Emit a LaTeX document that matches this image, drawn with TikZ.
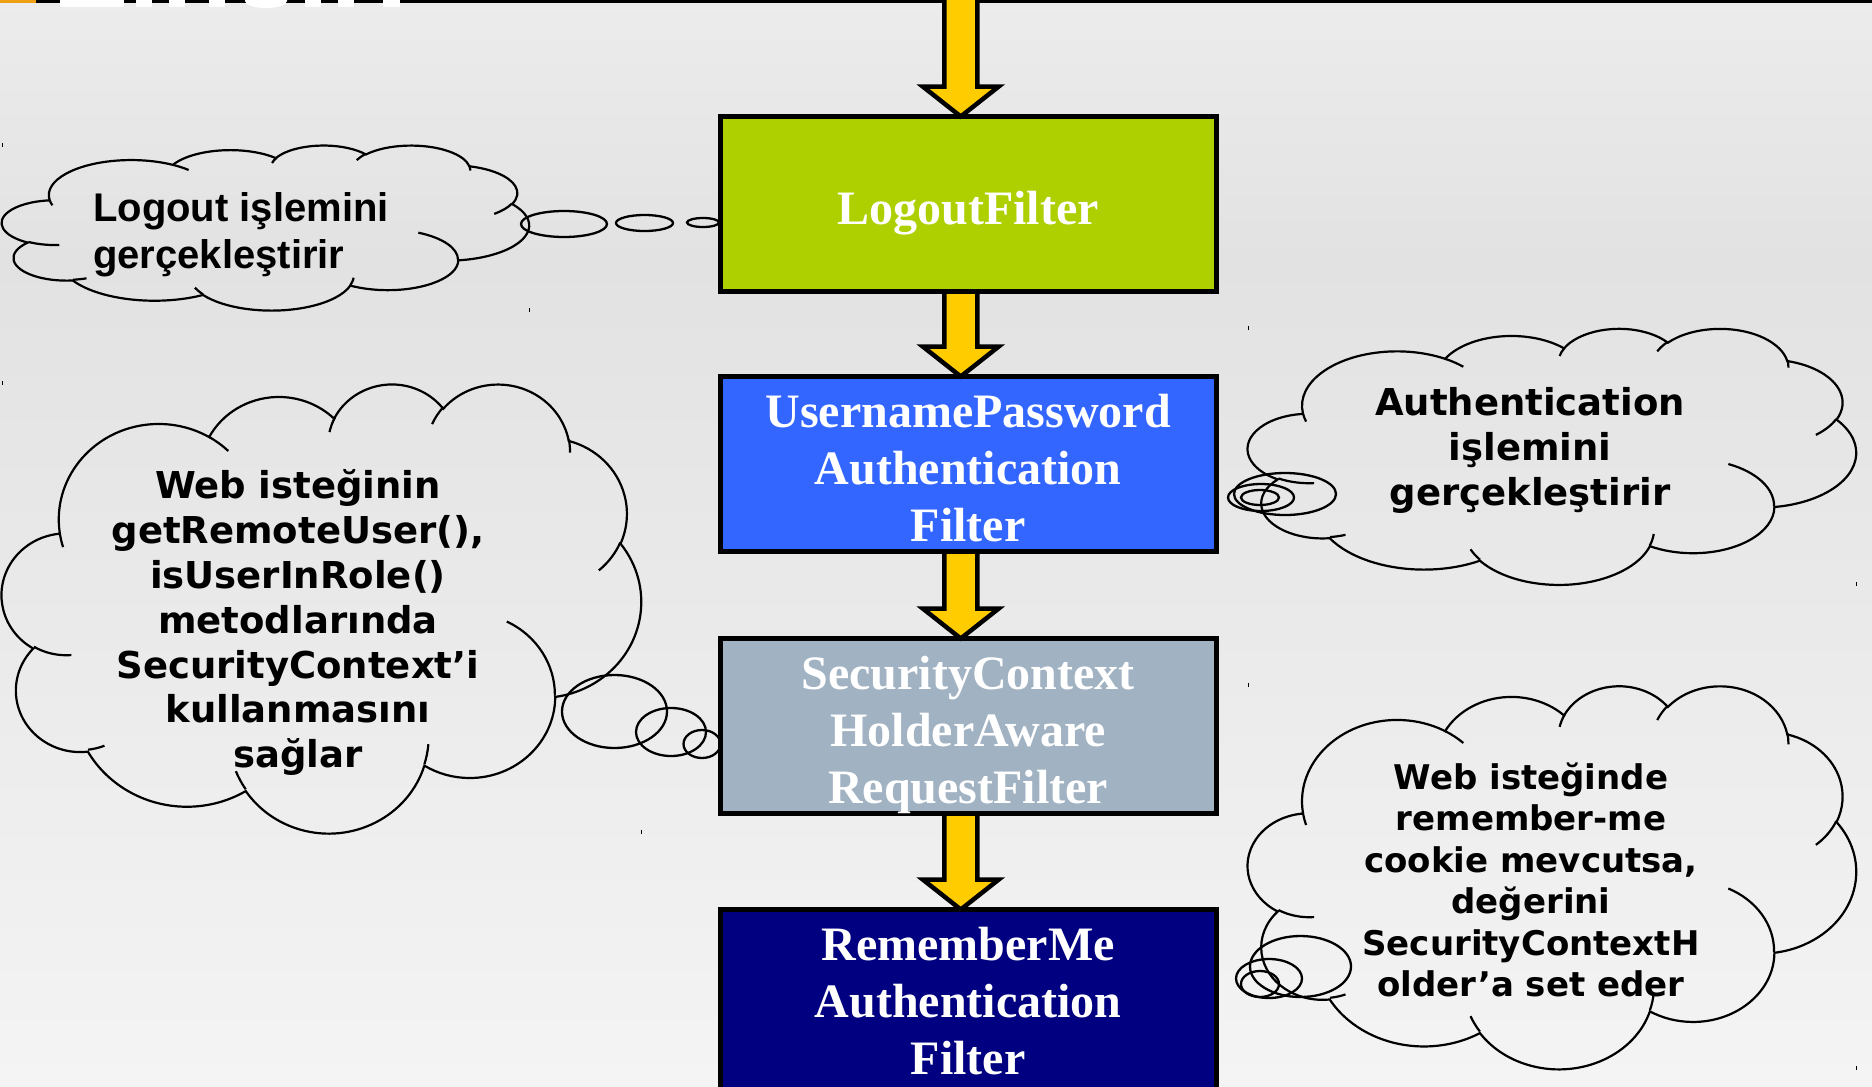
\documentclass[tikz,border=0pt]{standalone}
\usepackage{fontspec}
\setmainfont{Liberation Serif}
\newfontfamily\dejavu{DejaVu Sans}
\newfontfamily\libsans{Liberation Sans}
\usetikzlibrary{calc}
\definecolor{bgtop}{RGB}{236,236,236}
\definecolor{bgmid}{RGB}{226,226,226}
\definecolor{bgbot}{RGB}{244,244,244}
\definecolor{logoutgreen}{RGB}{174,207,0}
\definecolor{upablue}{RGB}{51,102,255}
\definecolor{scgray}{RGB}{161,178,195}
\definecolor{rmnavy}{RGB}{0,0,128}
\definecolor{arrowyellow}{RGB}{255,204,0}
\definecolor{toporange}{RGB}{240,160,20}

% visual (DrawingML) angles -> parametric angles
\newcommand\cldcalc[4]{%
  \pgfmathsetmacro\cldA{atan2((#1)*sin(#3),(#2)*cos(#3))}%
  \pgfmathsetmacro\cldB{atan2((#1)*sin((#3)+(#4)),(#2)*cos((#3)+(#4)))}%
  \ifdim\cldB pt<\cldA pt \pgfmathsetmacro\cldB{\cldB+360}\fi}
\newcommand\carc[4]{\pgfextra{\cldcalc{#1}{#2}{#3}{#4}}arc[x radius=#1,y radius=#2,start angle=\cldA,end angle=\cldB]}
\newcommand\cloudpath[4]{%
  \begin{scope}[shift={(#1,#2)},xscale=#3/432,yscale=#4/432]
  \draw[cloudline] (39.00,143.70)
     \carc{67.53}{91.90}{-190.4875}{123.7805}
     \carc{53.33}{72.67}{-144.1024}{89.9452}
     \carc{43.65}{59.45}{-145.8079}{99.7230}
     \carc{48.57}{65.95}{-130.9861}{117.2417}
     \carc{53.33}{72.73}{-78.7089}{109.0269}
     \carc{67.75}{92.20}{-46.2673}{130.2690}
     \carc{57.85}{78.67}{0.6250}{114.0333}
     \carc{67.52}{92.15}{22.4516}{115.1726}
     \carc{77.20}{105.43}{66.2426}{75.7110}
     \carc{43.60}{59.18}{-274.9421}{146.7356}
     \carc{43.45}{59.45}{-246.8285}{152.5189}
     -- cycle;
  \draw[cloudline]
     (46.93,261.77) \carc{43.45}{59.45}{86.7420}{26.4295}
     (69.28,348.99) \carc{43.60}{59.18}{73.6105}{11.4475}
     (164.78,390.90) \carc{67.52}{92.15}{137.6242}{14.0811}
     (288.27,347.51) \carc{67.52}{92.15}{6.4533}{15.9984}
     (341.29,229.54) \carc{57.85}{78.67}{-70.2924}{70.9174}
     (417.98,153.54) \carc{53.33}{72.73}{30.3180}{27.7515}
     (383.24,54.26) \carc{48.57}{65.95}{-13.7443}{14.8589}
     (290.78,39.52) \carc{48.57}{65.95}{-149.1815}{18.1954}
     (221.41,47.20) \carc{43.65}{59.45}{-163.4943}{17.6864}
     (140.00,51.92) \carc{67.53}{91.90}{-66.7070}{12.3194}
     (41.27,157.89) \carc{67.53}{91.90}{157.6544}{11.8582};
  \end{scope}}
\newcommand\fatarrow[2]{%
  \draw[fatarrowstyle] let \p1=(#1), \p2=(#2) in
    (\x2-16.5,\y1) -- (\x2-16.5,\y2+30) -- (\x2-38,\y2+30) -- (\x2,\y2)
    -- (\x2+38,\y2+30) -- (\x2+16.5,\y2+30) -- (\x2+16.5,\y1) -- cycle;}

\begin{document}
\begin{tikzpicture}[x=1pt,y=-1pt,
  cloudline/.style={draw=black,line width=2.2pt},
  tailell/.style={draw=black,line width=2.3pt},
  filterbox/.style={draw=black,line width=5pt,rectangle,minimum width=496pt,minimum height=175pt,inner sep=0pt,outer sep=0pt},
  boxtext/.style={text=white,align=center,inner sep=0pt,font=\fontsize{48}{57}\selectfont\bfseries},
  cloudtext/.style={text=black,align=center,inner sep=0pt,font=\dejavu\fontsize{37}{44.8}\selectfont\bfseries},
  fatarrowstyle/.style={draw=black,line width=4.5pt,fill=arrowyellow,line join=miter},
  tickmark/.style={draw=black,line width=1pt}]
\clip (0,0) rectangle (1872,1087);
\useasboundingbox (0,0) rectangle (1872,1087);
% background
\shade[top color=bgtop,bottom color=bgmid] (0,0) rectangle (1872,260);
\shade[top color=bgmid,bottom color=bgbot] (0,259.5) rectangle (1872,1087);
% top strip
\fill[toporange] (0,0) rectangle (36,2.5);
\fill[black] (36,0) rectangle (1872,2.5);
\fill[white] (60,0) rectangle (124,7);
\fill[white] (136,0) rectangle (152,7);
\fill[white] (169,0) rectangle (185,7);
\fill[white] (209,0) rectangle (225,7);
\fill[white] (245,0) -- (245,1) arc[start angle=180,end angle=0,x radius=21,y radius=7] -- (287,0) -- cycle;
\fill[white] (305,0) rectangle (321,7);
\fill[white] (338,0) rectangle (354,7);
\fill[white] (383,0) rectangle (400,7);
% clouds
\cloudpath{2}{145}{527}{165}
\cloudpath{1248}{328}{608}{256}
\cloudpath{2}{383}{639}{449}
\cloudpath{1248}{685}{608}{383}
% cloud tails
\draw[tailell] (564,224) ellipse[x radius=43,y radius=13];
\draw[tailell] (644.5,223) ellipse[x radius=28.5,y radius=8];
\draw[tailell] (703,222.5) ellipse[x radius=16,y radius=4.5];
\draw[tailell] (614.5,711.5) ellipse[x radius=52.5,y radius=36.5];
\draw[tailell] (671,732) ellipse[x radius=35,y radius=24];
\draw[tailell] (702,744) ellipse[x radius=18.5,y radius=14];
\draw[tailell] (1285,494) ellipse[x radius=51,y radius=21];
\draw[tailell] (1261,497.5) ellipse[x radius=33,y radius=13.5];
\draw[tailell] (1260,497.5) ellipse[x radius=19,y radius=7.5];
\draw[tailell] (1300.5,966.5) ellipse[x radius=50.5,y radius=30.5];
\draw[tailell] (1269,978.5) ellipse[x radius=33,y radius=19.5];
\draw[tailell] (1260,984) ellipse[x radius=19,y radius=13];
% filter boxes
\node[filterbox,fill=logoutgreen] (logout) at (968.25,204) {};
\node[filterbox,fill=upablue] (upa) at (968.25,464) {};
\node[filterbox,fill=scgray] (sc) at (968.25,726) {};
\node[filterbox,fill=rmnavy,minimum height=185pt] (rm) at (968.25,1002) {};
% arrows
\coordinate (entry) at (960.75,-10);
\fatarrow{entry}{$(logout.north)+(-7.5,0)$}
\fatarrow{$(logout.south)+(-7.5,0)$}{$(upa.north)+(-7.5,0)$}
\fatarrow{$(upa.south)+(-7.5,0)$}{$(sc.north)+(-7.5,0)$}
\fatarrow{$(sc.south)+(-7.5,0)$}{$(rm.north)+(-7.5,0)$}
% box texts
\node[boxtext,anchor=base] (logoutT) at (968.25,224.5) {LogoutFilter};
\node[boxtext] (upaT) at (968.25,467.8) {UsernamePassword\\Authentication\\Filter};
\node[boxtext] (scT) at (968.25,734.6) {SecurityContext\\HolderAware\\RequestFilter};
\node[boxtext] (rmT) at (968.25,1001.2) {RememberMe\\Authentication\\Filter};
% cloud texts
\node[inner sep=0pt,align=left,anchor=west,font=\libsans\fontsize{40}{47.5}\selectfont\bfseries] (logoutC) at (93,234.5) {Logout işlemini\\gerçekleştirir};
\node[cloudtext] (authC) at (1530,450.5) {Authentication\\işlemini\\gerçekleştirir};
\node[cloudtext] (webC) at (298,622.8) {Web isteğinin\\getRemoteUser(),\\isUserInRole()\\metodlarında\\SecurityContext’i\\kullanmasını\\sağlar};
\node[cloudtext,font=\dejavu\fontsize{34}{41.4}\selectfont\bfseries] (rmC) at (1531,879.8) {Web isteğinde\\remember-me\\cookie mevcutsa,\\değerini\\SecurityContextH\\older’a set eder};
% corner marks
\draw[tickmark] (2,143) -- (2,147);
\draw[tickmark] (529,308) -- (529,312);
\draw[tickmark] (1248,326) -- (1248,330);
\draw[tickmark] (1856,582) -- (1856,586);
\draw[tickmark] (2,381) -- (2,385);
\draw[tickmark] (641,830) -- (641,834);
\draw[tickmark] (1248,683) -- (1248,687);
\draw[tickmark] (1856,1066) -- (1856,1070);
\end{tikzpicture}
\end{document}
